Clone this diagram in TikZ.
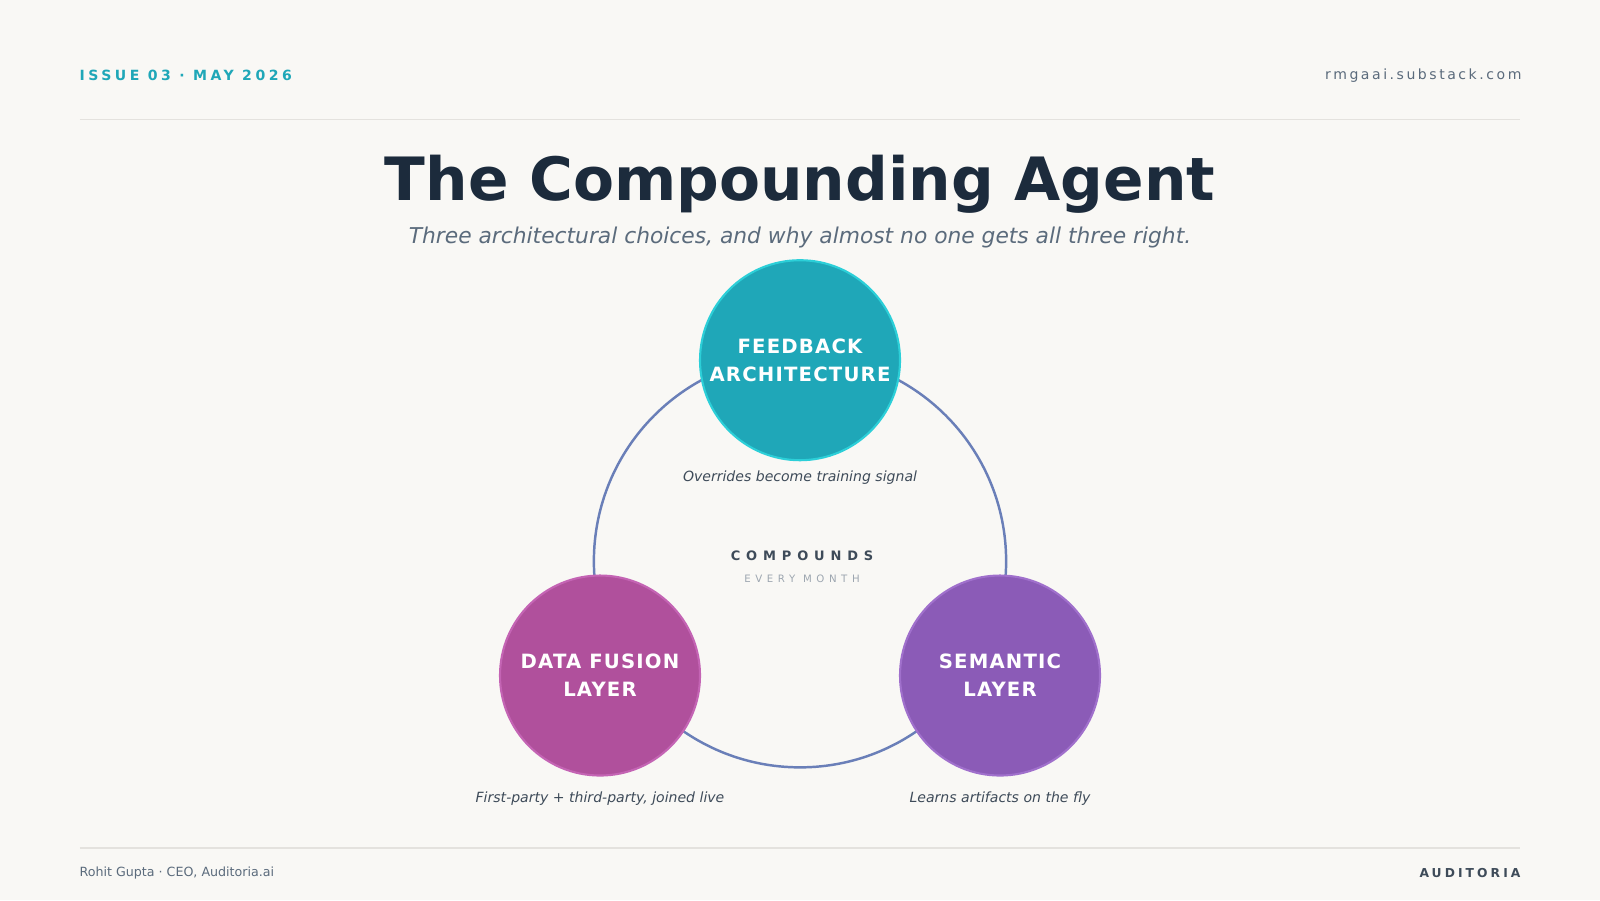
\documentclass[tikz,border=0pt]{standalone}
\usepackage{fontspec}
\setmainfont{DejaVu Sans}
\newfontfamily\spaced[LetterSpace=25]{DejaVu Sans}
\newfontfamily\loose[LetterSpace=18]{DejaVu Sans}
\newfontfamily\light[LetterSpace=6]{DejaVu Sans}
\newfontfamily\wide[LetterSpace=45]{DejaVu Sans}
\definecolor{paper}{HTML}{F9F8F5}
\definecolor{ink}{HTML}{1C2B3C}
\definecolor{slate}{HTML}{5B6B7C}
\definecolor{teal}{HTML}{1FA7B8}
\definecolor{tealrim}{HTML}{2CCFD8}
\definecolor{magenta}{HTML}{B0509C}
\definecolor{magrim}{HTML}{C464B4}
\definecolor{violet}{HTML}{8B5BB7}
\definecolor{violetrim}{HTML}{A070CC}
\definecolor{ring}{HTML}{6A7FB8}
\definecolor{rule}{HTML}{E4E2DE}
\tikzset{
every node/.style={inner sep=0pt, outer sep=0pt},
pillar/.style={circle, minimum size=196*0.010204cm, line width=0.6pt, text=white,
  align=center, font=\light\fontsize{5.6}{8}\selectfont\bfseries},
caption/.style={text=ink!85, font=\fontsize{4}{5}\selectfont\itshape},
}
\begin{document}
\begin{tikzpicture}[x=0.010204cm,y=-0.010204cm]
\fill[paper] (0,0) rectangle (1568,882);
\useasboundingbox (0,0) rectangle (1568,882);
% header and footer
\node[anchor=west, text=teal, font=\spaced\fontsize{4}{5}\selectfont\bfseries] (issue) at (78,74) {ISSUE 03 · MAY 2026};
\node[anchor=east, text=slate, font=\loose\fontsize{4}{5}\selectfont] (site) at (1491,74) {rmgaai.substack.com};
\draw[rule, line width=0.4pt] (78,117) -- (1490,117);
\draw[rule, line width=0.4pt] (78,831) -- (1490,831);
\node[anchor=west, text=slate, font=\fontsize{3.6}{5}\selectfont] (author) at (78,856) {Rohit Gupta · CEO, Auditoria.ai};
\node[anchor=east, text=ink!85, font=\spaced\fontsize{3.5}{5}\selectfont\bfseries] (brand) at (1490,856) {AUDITORIA};
% title
\node[text=ink, font=\fontsize{17}{20}\selectfont\bfseries] (title) at (784,181) {The Compounding Agent};
\node[text=slate, font=\fontsize{6.2}{8}\selectfont\itshape] (subtitle) at (784,233) {Three architectural choices, and why almost no one gets all three right.};
% cycle
\coordinate (hub) at (784,550);
\draw[ring, line width=0.7pt] (hub) circle [radius=202*0.010204cm];
\node[pillar, fill=teal, draw=tealrim] (feedback) at (784,353) {FEEDBACK\\ARCHITECTURE};
\node[pillar, fill=magenta, draw=magrim] (fusion) at (588,662) {DATA FUSION\\LAYER};
\node[pillar, fill=violet, draw=violetrim] (semantic) at (980,662) {SEMANTIC\\LAYER};
\node[caption] (cfeedback) at (784,468) {Overrides become training signal};
\node[caption] (cfusion) at (588,783) {First-party + third-party, joined live};
\node[caption] (csemantic) at (980,783) {Learns artifacts on the fly};
\node[text=ink!85, font=\wide\fontsize{3.7}{5}\selectfont\bfseries] (compounds) at (786,545) {COMPOUNDS};
\node[text=slate!60, font=\wide\fontsize{2.9}{4}\selectfont] (monthly) at (786,567) {EVERY MONTH};
\end{tikzpicture}
\end{document}
